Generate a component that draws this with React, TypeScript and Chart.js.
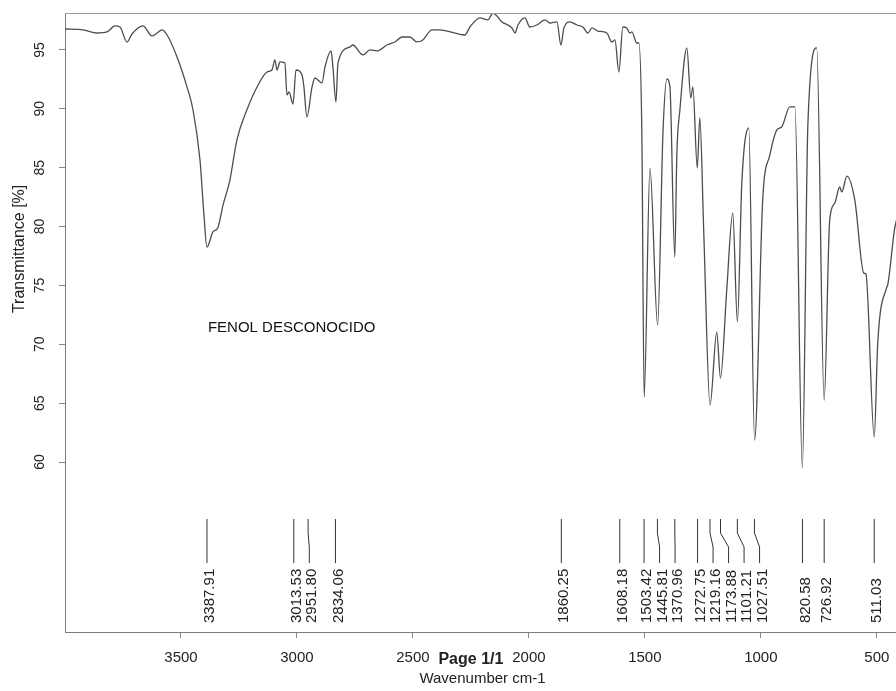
import React, { useEffect, useRef } from "react";
import { Chart, registerables } from "chart.js";

Chart.register(...registerables);

// Spectrum (wavenumber cm-1, transmittance %)
const wavenumbers = [
  4000, 3922, 3862, 3819, 3784, 3763, 3733, 3711, 3664, 3625, 3603, 3582, 3560, 3517, 3474, 3448, 3418, 3401,
  3388, 3362, 3341, 3319, 3289, 3259, 3216, 3172, 3129, 3108, 3095, 3086, 3073, 3052, 3043, 3034, 3017, 3004,
  2978, 2970, 2957, 2935, 2922, 2892, 2879, 2853, 2845, 2832, 2823, 2772, 2759, 2716, 2685, 2655, 2612, 2578,
  2547, 2513, 2483, 2457, 2418, 2384, 2276, 2254, 2211, 2177, 2155, 2116, 2073, 2060, 2047, 2017, 1996, 1966,
  1931, 1909, 1879, 1862, 1849, 1823, 1793, 1767, 1746, 1728, 1703, 1664, 1642, 1629, 1612, 1595, 1578, 1565,
  1556, 1535, 1526, 1513, 1503, 1478, 1445, 1422, 1405, 1392, 1371, 1362, 1349, 1319, 1302, 1293, 1274, 1263,
  1246, 1219, 1190, 1174, 1147, 1121, 1101, 1082, 1052, 1027, 992, 961, 931, 910, 875, 853, 821, 797, 759, 727,
  703, 681, 660, 651, 629, 595, 556, 547, 511, 496, 457, 453, 422, 400,
];
const transmittance = [
  96.78, 96.7, 96.44, 96.53, 97.04, 96.95, 95.68, 96.36, 97.04, 96.19, 96.44, 96.7, 96.27, 94.41, 91.86, 89.9,
  85.65, 81.0, 78.26, 79.54, 79.9, 81.8, 83.95, 87.35, 89.9, 91.86, 93.13, 93.3, 94.15, 93.3, 93.98, 93.9, 91.18,
  91.43, 90.41, 93.3, 92.88, 91.86, 89.31, 91.86, 92.62, 92.2, 93.56, 94.92, 93.56, 90.58, 93.9, 95.25, 95.42,
  94.58, 95.0, 94.92, 95.42, 95.68, 96.1, 96.1, 95.68, 95.85, 96.7, 96.7, 96.27, 96.95, 97.72, 97.55, 98.14,
  97.38, 96.87, 96.44, 97.12, 97.72, 96.95, 97.12, 97.55, 97.29, 97.38, 95.42, 96.87, 97.38, 97.12, 96.95, 96.44,
  96.87, 96.61, 96.44, 95.68, 95.85, 93.13, 96.95, 96.87, 96.44, 96.53, 95.59, 95.59, 87.95, 65.52, 84.97, 71.64,
  87.95, 92.54, 91.86, 77.41, 86.25, 89.9, 95.17, 90.92, 91.86, 84.97, 89.22, 79.45, 64.84, 71.04, 67.13, 74.61,
  81.15, 71.89, 83.7, 88.37, 61.86, 82.26, 86.08, 88.2, 88.46, 90.16, 90.16, 59.49, 88.8, 95.17, 65.26, 80.56,
  82.0, 83.36, 82.94, 84.29, 82.26, 76.05, 75.97, 62.12, 70.11, 74.86, 75.03, 79.96, 81.4,
];

const peakPositions = [
  3387.91, 3013.53, 2951.8, 2834.06, 1860.25, 1608.18, 1503.42, 1445.81, 1370.96, 1272.75, 1219.16, 1173.88,
  1101.21, 1027.51, 820.58, 726.92, 511.03,
];
const peakLabels = [
  "3387.91", "3013.53", "2951.80", "2834.06", "1860.25", "1608.18", "1503.42", "1445.81", "1370.96", "1272.75",
  "1219.16", "1173.88", "1101.21", "1027.51", "820.58", "726.92", "511.03",
];

const xTickValues = [3500, 3000, 2500, 2000, 1500, 1000, 500];
const yTickValues = [60, 65, 70, 75, 80, 85, 90, 95];
const xRange = [4000, 400];
const yRange = [45.56, 98.14];

const sampleName = "FENOL DESCONOCIDO";
const sampleNameAt = [3384, 71.38];
const xTitle = "Wavenumber cm-1";
const yTitle = "Transmittance [%]";
const pageText = "Page 1/1";

const FONT = "'Liberation Sans', Arial, Helvetica, sans-serif";

const decorPlugin = {
  id: "irDecor",
  afterDraw(chart: any) {
    const { ctx, chartArea, scales } = chart;
    const xs = scales.x;
    const ys = scales.y;
    const { left, right, top, bottom } = chartArea;
    ctx.save();

    // top frame line
    ctx.strokeStyle = "#9a9a9a";
    ctx.lineWidth = 1;
    ctx.beginPath();
    ctx.moveTo(left, top + 0.5);
    ctx.lineTo(right, top + 0.5);
    ctx.stroke();

    // y tick labels (rotated)
    ctx.fillStyle = "#222";
    ctx.font = `14px ${FONT}`;
    ctx.textAlign = "center";
    ctx.textBaseline = "middle";
    yTickValues.forEach((v) => {
      const py = ys.getPixelForValue(v);
      ctx.save();
      ctx.translate(40, py);
      ctx.rotate(-Math.PI / 2);
      ctx.fillText(String(v), 0, 0);
      ctx.restore();
    });

    // y title
    ctx.font = `16px ${FONT}`;
    ctx.save();
    ctx.translate(20, ys.getPixelForValue(78.1));
    ctx.rotate(-Math.PI / 2);
    ctx.fillText(yTitle, 0, 0);
    ctx.restore();

    // x title
    ctx.font = `15px ${FONT}`;
    ctx.fillText(xTitle, (left + right) / 2, 679);

    // page text
    ctx.font = `bold 16px ${FONT}`;
    ctx.fillText(pageText, xs.getPixelForValue(2250), 660);

    // sample name
    ctx.font = `15px ${FONT}`;
    ctx.textAlign = "left";
    ctx.fillStyle = "#111";
    ctx.fillText(sampleName, xs.getPixelForValue(sampleNameAt[0]), ys.getPixelForValue(sampleNameAt[1]));

    // peak markers
    const spacing = 15.5;
    const placed: number[] = [];
    peakPositions.forEach((p, i) => {
      const px = xs.getPixelForValue(p);
      let lx = px;
      if (i > 0 && lx < placed[i - 1] + spacing) lx = placed[i - 1] + spacing;
      placed.push(lx);
    });
    ctx.strokeStyle = "#333";
    ctx.lineWidth = 1;
    ctx.font = `15px ${FONT}`;
    ctx.fillStyle = "#222";
    peakPositions.forEach((p, i) => {
      const px = xs.getPixelForValue(p);
      const lx = placed[i];
      ctx.beginPath();
      ctx.moveTo(px, bottom - 113);
      ctx.lineTo(px, bottom - 99);
      ctx.lineTo(lx, bottom - 85);
      ctx.lineTo(lx, bottom - 69);
      ctx.stroke();
      ctx.save();
      ctx.translate(lx + 3, bottom - 9);
      ctx.rotate(-Math.PI / 2);
      ctx.textAlign = "left";
      ctx.textBaseline = "middle";
      ctx.fillText(peakLabels[i], 0, 0);
      ctx.restore();
    });

    ctx.restore();
  },
};

export default function App() {
  const canvasRef = useRef<HTMLCanvasElement | null>(null);

  useEffect(() => {
    const canvas = canvasRef.current;
    if (!canvas) return;
    const points = wavenumbers.map((w, i) => ({ x: w, y: transmittance[i] }));
    const chart = new Chart(canvas, {
      type: "line",
      data: {
        datasets: [
          {
            data: points,
            borderColor: "#4d4d4d",
            borderWidth: 1.3,
            pointRadius: 0,
            cubicInterpolationMode: "monotone",
            fill: false,
          },
        ],
      },
      options: {
        animation: false,
        responsive: false,
        devicePixelRatio: 1,
        parsing: false,
        layout: { padding: { top: 13, right: 10, bottom: 0, left: 0 } },
        plugins: { legend: { display: false }, tooltip: { enabled: false }, title: { display: false } },
        scales: {
          x: {
            type: "linear",
            reverse: true,
            min: xRange[1],
            max: xRange[0],
            afterBuildTicks: (s: any) => {
              s.ticks = xTickValues.map((v) => ({ value: v }));
            },
            afterFit: (s: any) => {
              s.height = 59;
            },
            grid: { drawOnChartArea: false, drawTicks: true, tickLength: 6, color: "#888" },
            border: { display: true, color: "#7a7a7a", width: 1 },
            ticks: {
              autoSkip: false,
              maxRotation: 0,
              minRotation: 0,
              padding: 11,
              color: "#222",
              font: { family: FONT, size: 15 },
              callback: (v: any) => String(v),
            },
          },
          y: {
            type: "linear",
            min: yRange[0],
            max: yRange[1],
            afterBuildTicks: (s: any) => {
              s.ticks = yTickValues.map((v) => ({ value: v }));
            },
            afterFit: (s: any) => {
              s.width = 65;
            },
            grid: { drawOnChartArea: false, drawTicks: true, tickLength: 6, color: "#888" },
            border: { display: true, color: "#7a7a7a", width: 1 },
            ticks: { display: false },
          },
        },
      },
      plugins: [decorPlugin],
    } as any);
    return () => chart.destroy();
  }, []);

  return (
    <div
      style={{
        position: "fixed",
        left: 0,
        top: 0,
        width: 896,
        height: 691,
        overflow: "hidden",
        background: "#fff",
      }}
    >
      <canvas ref={canvasRef} width={910} height={691} style={{ display: "block", width: 910, height: 691 }} />
    </div>
  );
}
